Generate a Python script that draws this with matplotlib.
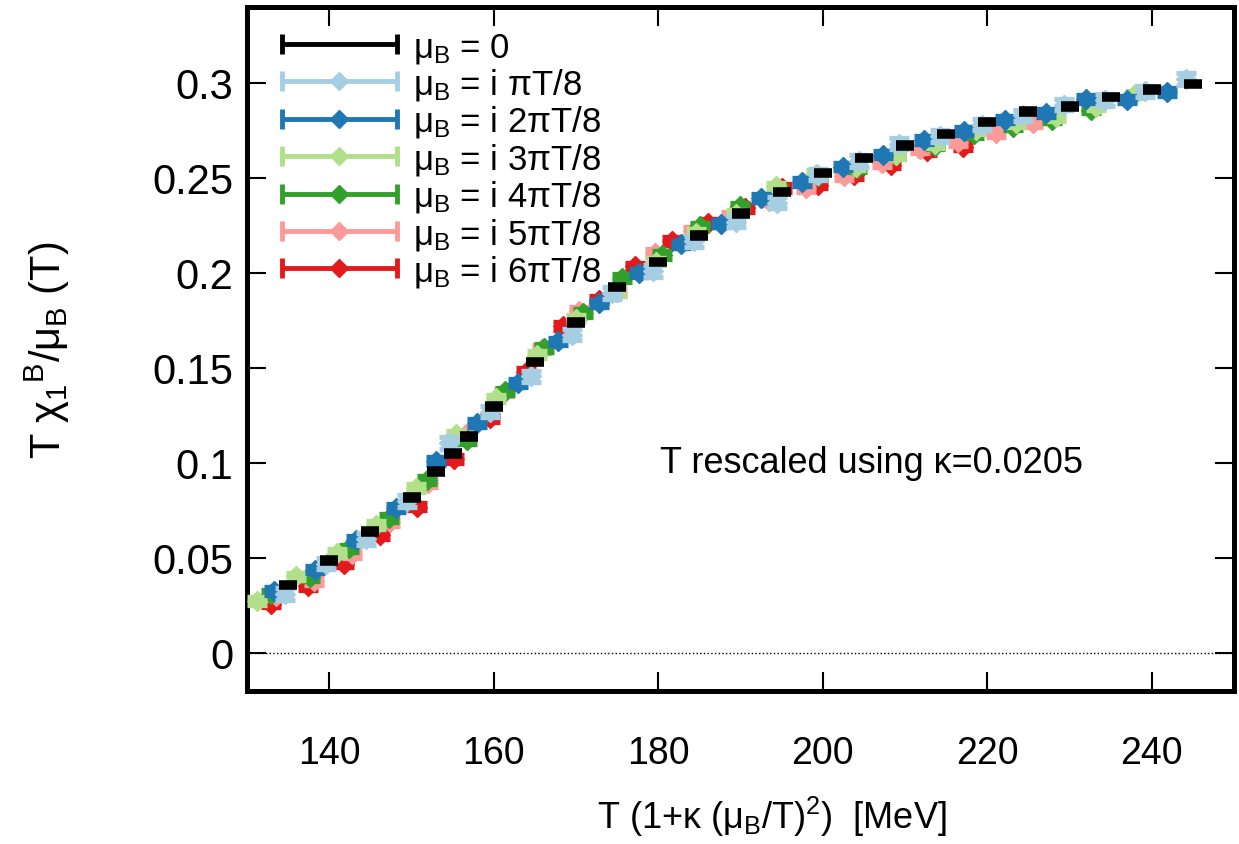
import numpy as np
import matplotlib
matplotlib.use("Agg")
import matplotlib.pyplot as plt
from matplotlib.container import ErrorbarContainer
from matplotlib.legend_handler import HandlerErrorbar

plt.rcParams['font.family'] = ['Liberation Sans', 'DejaVu Sans']
plt.rcParams['mathtext.fontset'] = 'custom'
plt.rcParams['mathtext.rm'] = 'Liberation Sans'
plt.rcParams['mathtext.it'] = 'Liberation Sans'
plt.rcParams['mathtext.sf'] = 'Liberation Sans'

# mu_B = 0
x_mu0 = [135, 140, 145, 150, 153, 155, 157, 160, 165, 170, 175, 180, 185, 190, 195,
         200, 205, 210, 215, 220, 225, 230, 235, 240, 245]
y_mu0 = [0.0358, 0.0488, 0.0638, 0.0817, 0.0956, 0.1049, 0.114, 0.1298, 0.1532, 0.174,
         0.1926, 0.2058, 0.2198, 0.2312, 0.2426, 0.2525, 0.2605, 0.2672, 0.2732, 0.2795,
         0.2851, 0.2875, 0.2926, 0.2965, 0.2995]

# mu_B = i pi T/8
x_im1 = [134.6, 139.6, 144.5, 149.5, 154.5, 159.5, 164.5, 169.5, 174.4, 179.4, 184.4, 189.4,
         194.4, 199.4, 204.4, 209.3, 214.3, 219.3, 224.3, 229.3, 234.3, 239.2, 244.2]
y_im1 = [0.031, 0.047, 0.060, 0.080, 0.1105, 0.127, 0.1456, 0.1675, 0.1895, 0.201, 0.2167,
         0.227, 0.237, 0.2517, 0.259, 0.268, 0.272, 0.278, 0.283, 0.2886, 0.291, 0.2956, 0.302]

# mu_B = i 2pi T/8
x_im2 = [133.3, 138.2, 143.2, 148.1, 153.0, 158.0, 162.9, 167.8, 172.8, 177.7, 182.7, 187.6,
         192.5, 197.5, 202.4, 207.3, 212.3, 217.2, 222.2, 227.1, 232.0, 237.0, 241.9]
y_im2 = [0.0325, 0.0439, 0.0596, 0.0763, 0.1009, 0.121, 0.142, 0.164, 0.184, 0.200, 0.215,
         0.226, 0.2395, 0.248, 0.256, 0.2623, 0.270, 0.2746, 0.2807, 0.2842, 0.2917, 0.2912, 0.2953]

# mu_B = i 3pi T/8
x_im3 = [131.2, 136.0, 140.9, 145.7, 150.6, 155.4, 160.3, 165.2, 170.0, 174.9, 179.7, 184.6,
         189.5, 194.3, 199.2, 204.0, 208.9, 213.7, 218.6, 223.5, 228.3, 233.2, 238.0]
y_im3 = [0.0275, 0.0403, 0.0526, 0.0675, 0.0868, 0.115, 0.134, 0.157, 0.176, 0.190, 0.206,
         0.221, 0.231, 0.2456, 0.252, 0.256, 0.262, 0.268, 0.275, 0.279, 0.282, 0.2875, 0.294]

# mu_B = i 4pi T/8
x_im4 = [132.9, 137.7, 142.4, 147.2, 151.9, 156.7, 161.4, 166.1, 170.9, 175.6, 180.4, 185.1,
         189.9, 194.6, 199.4, 204.1, 208.9, 213.6, 218.4, 223.1, 227.9, 232.6]
y_im4 = [0.031, 0.040, 0.055, 0.071, 0.091, 0.112, 0.1377, 0.1605, 0.179, 0.1974, 0.2096,
         0.2245, 0.235, 0.244, 0.251, 0.255, 0.262, 0.267, 0.273, 0.277, 0.2807, 0.286]

# mu_B = i 5pi T/8
x_im5 = [133.5, 138.1, 142.7, 147.4, 152.0, 156.6, 161.2, 165.8, 170.4, 175.0, 179.6, 184.2,
         188.8, 193.4, 198.0, 202.6, 207.2, 211.8, 216.4, 221.0, 225.6]
y_im5 = [0.030, 0.038, 0.052, 0.069, 0.0895, 0.115, 0.137, 0.160, 0.180, 0.190, 0.2105,
         0.222, 0.230, 0.238, 0.2447, 0.251, 0.258, 0.265, 0.269, 0.2737, 0.279]

# mu_B = i 6pi T/8
x_im6 = [132.9, 137.4, 141.8, 146.2, 150.7, 155.1, 159.5, 163.9, 168.4, 172.8, 177.2, 181.7,
         186.1, 190.5, 195.0, 199.4, 203.8, 208.3, 212.7, 217.1]
y_im6 = [0.026, 0.035, 0.047, 0.062, 0.077, 0.102, 0.1237, 0.148, 0.172, 0.186, 0.2035,
         0.2167, 0.2263, 0.234, 0.2447, 0.2465, 0.2517, 0.257, 0.264, 0.2665]

labels = [r'$\mu_B$ = 0', r'$\mu_B$ = i πT/8', r'$\mu_B$ = i 2πT/8', r'$\mu_B$ = i 3πT/8',
          r'$\mu_B$ = i 4πT/8', r'$\mu_B$ = i 5πT/8', r'$\mu_B$ = i 6πT/8']
colors = ['black', '#a6cee3', '#1f78b4', '#b2df8a', '#33a02c', '#fb9a99', '#e31a1c']
errors = [0.0012, 0.003, 0.002, 0.002, 0.002, 0.002, 0.002]

xticks = [140, 160, 180, 200, 220, 240]
yticks = [0, 0.05, 0.1, 0.15, 0.2, 0.25, 0.3]
ytick_labels = ['0', '0.05', '0.1', '0.15', '0.2', '0.25', '0.3']

xs = [x_mu0, x_im1, x_im2, x_im3, x_im4, x_im5, x_im6]
ys = [y_mu0, y_im1, y_im2, y_im3, y_im4, y_im5, y_im6]

fig = plt.figure(figsize=(12.39, 8.45), dpi=100)
ax = fig.add_axes([0.1994, 0.1811, 0.7966, 0.8095])

ax.axhline(0, color='black', ls=':', lw=1.0, zorder=1)

# red first, black on top
for i in range(6, -1, -1):
    if i == 0:
        ax.errorbar(xs[i], ys[i], yerr=errors[i], fmt='none', ecolor=colors[i],
                    elinewidth=3.5, capsize=6.5, capthick=4, zorder=10)
    else:
        ax.errorbar(xs[i], ys[i], yerr=errors[i], fmt='D', ms=10, color=colors[i],
                    mec=colors[i], ecolor=colors[i], elinewidth=3.5, capsize=7.5,
                    capthick=3.8, zorder=3 + (6 - i))

# legend proxies: horizontal bar with caps and a diamond in the middle
handles = []
for i in range(7):
    h = ax.errorbar([np.nan], [np.nan], xerr=[1.0], fmt='.' if i == 0 else 'D',
                    ms=2 if i == 0 else 9, color=colors[i], ecolor=colors[i],
                    elinewidth=3.5, capsize=7, capthick=3.5, label=labels[i])
    handles.append(h)

leg_fs = 25
hl = 3.32
ax.legend(handles=handles, loc='upper left', bbox_to_anchor=(0.035, 0.966),
          frameon=False, fontsize=leg_fs, handlelength=hl, handletextpad=0.45,
          labelspacing=0.04, borderpad=0, borderaxespad=0,
          handler_map={ErrorbarContainer: HandlerErrorbar(xerr_size=hl / 2, numpoints=1)})

ax.text(180.2, 0.1, 'T rescaled using κ=0.0205', fontsize=26, va='center', ha='left')

ax.set_xlim(130, 250)
ax.set_ylim(-0.02, 0.34)
ax.set_xticks(xticks)
ax.set_yticks(yticks)
ax.set_yticklabels(ytick_labels)

ax.tick_params(direction='in', length=14, width=1.5, top=True, right=True)
ax.tick_params(axis='x', pad=32, labelsize=27)
ax.tick_params(axis='y', pad=10, labelsize=30)
for s in ax.spines.values():
    s.set_linewidth(3.6)

ax.set_xlabel(r'T (1+κ ($\mu_B$/T)$^2$)  [MeV]', fontsize=26)
ax.xaxis.set_label_coords(0.532, -0.15)
ax.set_ylabel(r'T $\chi_1{}^{B}$/$\mu_B$ (T)', fontsize=30)
ax.yaxis.set_label_coords(-0.177, 0.5)

fig.savefig('out.png', dpi=100)
